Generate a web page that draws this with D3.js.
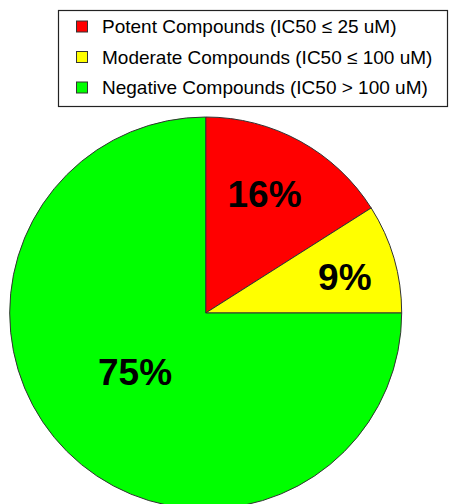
<!DOCTYPE html>
<html>
<head>
<meta charset="utf-8">
<script src="https://cdn.jsdelivr.net/npm/d3@7"></script>
<style>
  html, body { margin: 0; padding: 0; background: #fff; }
  svg { display: block; }
</style>
</head>
<body>
<svg id="chart" width="453" height="504"></svg>
<script>
// Share of compounds by potency class (percent)
const categories = [
  "Potent Compounds (IC50 \u2264 25 uM)",
  "Moderate Compounds (IC50 \u2264 100 uM)",
  "Negative Compounds (IC50 > 100 uM)"
];
const values = [16, 9, 75];
const colors = ["#ff0000", "#ffff00", "#00ff00"];

const svg = d3.select("#chart");
const cx = 205.7, cy = 313, radius = 196;

const pie = d3.pie().sort(null).value(d => d).startAngle(0).endAngle(2 * Math.PI);
const arcs = pie(values);
const arc = d3.arc().innerRadius(0).outerRadius(radius);

const g = svg.append("g").attr("transform", `translate(${cx},${cy})`);

g.selectAll("path.slice")
  .data(arcs)
  .join("path")
  .attr("class", "slice")
  .attr("d", arc)
  .attr("fill", (d, i) => colors[i])
  .attr("stroke", "#333")
  .attr("stroke-width", 1);

// label placement per slice: radius as a fraction of the pie radius,
// plus a small angular nudge (degrees) from the slice's mid angle
const labelRadius = [0.68, 0.734, 0.468];
const labelNudge = [-2.6, 1.4, 5.4];
g.selectAll("text.pct")
  .data(arcs)
  .join("text")
  .attr("class", "pct")
  .attr("transform", (d, i) => {
    const r = radius * labelRadius[i];
    const a = (d.startAngle + d.endAngle) / 2 + labelNudge[i] * Math.PI / 180;
    return `translate(${Math.sin(a) * r},${-Math.cos(a) * r})`;
  })
  .attr("text-anchor", "middle")
  .attr("dy", "0.36em")
  .attr("font-family", "Liberation Sans, Arial, sans-serif")
  .attr("font-weight", "bold")
  .attr("font-size", 37)
  .attr("fill", "#000")
  .text(d => d.data + "%");

// Legend
const legend = svg.append("g");
legend.append("rect")
  .attr("x", 58.5).attr("y", 10.5)
  .attr("width", 389).attr("height", 96)
  .attr("fill", "#fff")
  .attr("stroke", "#222")
  .attr("stroke-width", 1.2);

const rows = legend.selectAll("g.row")
  .data(categories)
  .join("g")
  .attr("class", "row")
  .attr("transform", (d, i) => `translate(0,${26.5 + i * 30.5})`);

rows.append("rect")
  .attr("x", 76.5).attr("y", -5.5)
  .attr("width", 11).attr("height", 11)
  .attr("fill", (d, i) => colors[i])
  .attr("stroke", "#333")
  .attr("stroke-width", 1);

rows.append("text")
  .attr("x", 102)
  .attr("dy", "0.36em")
  .attr("font-family", "Liberation Sans, Arial, sans-serif")
  .attr("font-size", 19)
  .attr("fill", "#000")
  .text(d => d);
</script>
</body>
</html>
